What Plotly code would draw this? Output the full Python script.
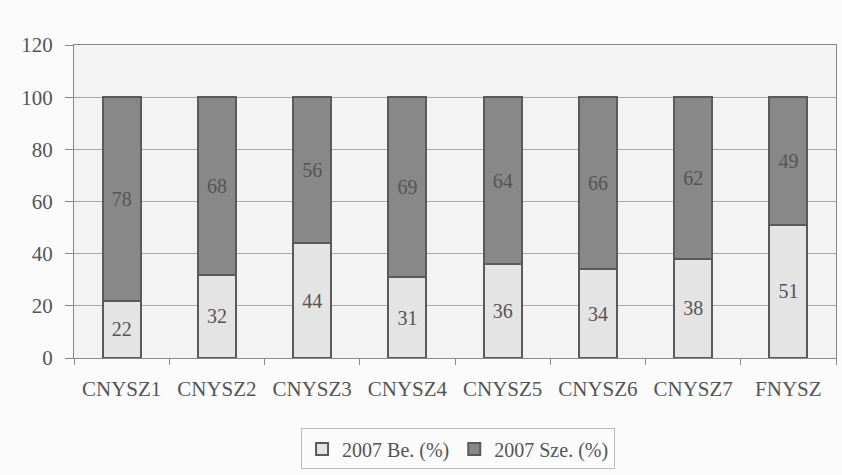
import plotly.graph_objects as go

categories = ["CNYSZ1", "CNYSZ2", "CNYSZ3", "CNYSZ4", "CNYSZ5", "CNYSZ6", "CNYSZ7", "FNYSZ"]
be_values = [22, 32, 44, 31, 36, 34, 38, 51]
sze_values = [78, 68, 56, 69, 64, 66, 62, 49]
series_names = ["2007 Be. (%)", "2007 Sze. (%)"]
y_ticks = [0, 20, 40, 60, 80, 100, 120]

font_family = "Liberation Serif, Times New Roman, serif"
text_color = "#555555"

fig = go.Figure()
fig.add_trace(go.Bar(
    x=categories, y=be_values, name=series_names[0],
    marker=dict(color="#e4e4e4", line=dict(color="#5a5a5a", width=2)),
    text=[str(v) for v in be_values], textposition="inside", insidetextanchor="middle",
    textfont=dict(family=font_family, size=20, color=text_color),
))
fig.add_trace(go.Bar(
    x=categories, y=sze_values, name=series_names[1],
    marker=dict(color="#888888", line=dict(color="#5a5a5a", width=2)),
    text=[str(v) for v in sze_values], textposition="inside", insidetextanchor="middle",
    textfont=dict(family=font_family, size=20, color=text_color),
))

fig.update_layout(
    barmode="stack",
    bargap=0.6,
    width=842, height=475,
    margin=dict(l=74, r=6, t=45, b=117),
    paper_bgcolor="#fbfbfb",
    plot_bgcolor="#f3f3f3",
    font=dict(family=font_family, size=20, color=text_color),
    showlegend=True,
    legend=dict(
        orientation="h", x=0.504, xanchor="center", y=-0.225, yanchor="top",
        bordercolor="#bbbbbb", borderwidth=1, bgcolor="#fbfbfb",
        font=dict(family=font_family, size=20, color=text_color),
        itemwidth=30, traceorder="normal",
    ),
    xaxis=dict(
        showline=True, linecolor="#888888", linewidth=1, mirror=True,
        ticks="outside", tickson="boundaries", ticklen=6, tickcolor="#888888",
        tickfont=dict(family=font_family, size=21, color=text_color),
        ticklabelstandoff=12,
        showgrid=False,
    ),
    yaxis=dict(
        range=[0, 120], tickvals=y_ticks,
        showline=True, linecolor="#888888", linewidth=1, mirror=True,
        ticks="outside", ticklen=8, tickcolor="#888888",
        showgrid=True, gridcolor="#a8a8a8", gridwidth=1,
        tickfont=dict(family=font_family, size=21, color=text_color),
        ticklabelstandoff=8,
        zeroline=False,
    ),
)

fig.write_html(
    "out.html",
    config={"displayModeBar": False},
    post_script="document.body.style.margin='0';document.body.style.overflow='hidden';",
)
